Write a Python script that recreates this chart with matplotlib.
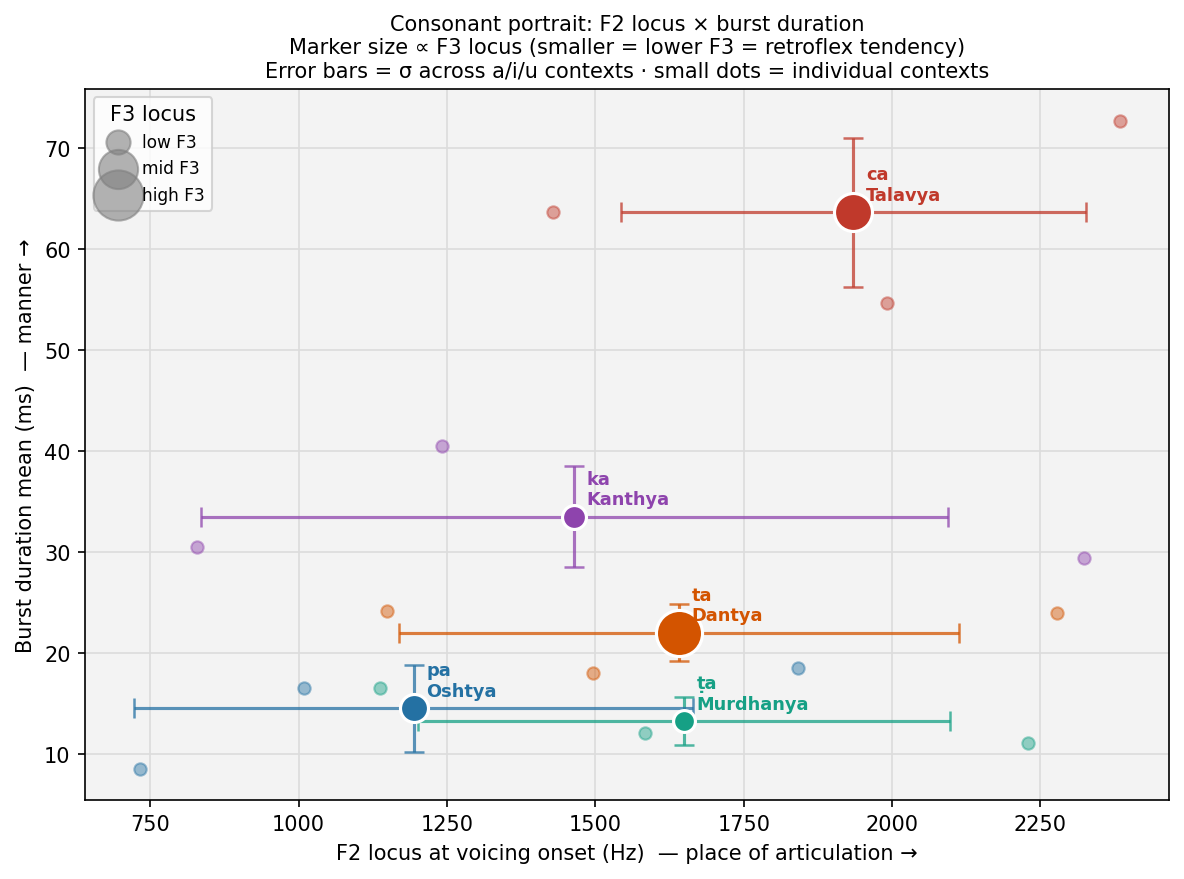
import numpy as np
import matplotlib.pyplot as plt

names = ['Kanthya', 'Talavya', 'Murdhanya', 'Dantya', 'Oshtya']
syllables = ['ka', 'ca', 'ṭa', 'ta', 'pa']
colors = ['#8e44ad', '#c0392b', '#16a085', '#d35400', '#2471a3']

# per-context (a / i / u) values
f2_ctx = [
    [829, 1242, 2323],
    [2384, 1429, 1991],
    [1137, 1584, 2229],
    [1149, 1496, 2278],
    [732, 1009, 1841],
]
burst_ctx = [
    [30.5, 40.5, 29.4],
    [72.7, 63.6, 54.6],
    [16.5, 12.1, 11.1],
    [24.1, 18.0, 23.9],
    [8.5, 16.5, 18.5],
]
f3_locus = [2240, 2610, 2200, 2900, 2330]

legend_labels = ['low F3', 'mid F3', 'high F3']
legend_f3 = [2245, 2650, 3000]


def f3_to_size(f3):
    return np.interp(f3, [2200, 2900], [110, 490], right=580)


fig, ax = plt.subplots(figsize=(1184 / 150, 880 / 150), dpi=150)
fig.subplots_adjust(left=0.072, right=0.987, top=0.898, bottom=0.09)
ax.set_facecolor('#f3f3f3')
ax.grid(True, color='#dcdcdc', linewidth=0.8)
ax.set_axisbelow(True)

for i, name in enumerate(names):
    xs = np.array(f2_ctx[i])
    ys = np.array(burst_ctx[i])
    mx, my = xs.mean(), ys.mean()
    sx, sy = xs.std(), ys.std()
    c = colors[i]
    ax.scatter(xs, ys, s=35, color=c, alpha=0.45, edgecolor=c, linewidth=1, zorder=2)
    ax.errorbar(mx, my, xerr=sx, yerr=sy, fmt='none', ecolor=c, alpha=0.75,
                elinewidth=1.5, capsize=5, capthick=1.2, zorder=3)
    ax.scatter([mx], [my], s=f3_to_size(f3_locus[i]), color=c, edgecolor='white',
               linewidth=1.5, zorder=4)
    ax.annotate(f'{syllables[i]}\n{name}', (mx, my), xytext=(6, 4),
                textcoords='offset points', ha='left', va='bottom',
                color=c, fontsize=8.5, fontweight='bold', zorder=5)

handles = []
for lab, f3 in zip(legend_labels, legend_f3):
    handles.append(ax.scatter([], [], s=f3_to_size(f3), color='grey', alpha=0.6,
                              edgecolor='grey', label=lab))
ax.legend(handles=handles, title='F3 locus', loc='upper left', fontsize=8.2,
          title_fontsize=10, labelspacing=0.5, handletextpad=0.45,
          borderpad=0.4, framealpha=0.8)

ax.set_xlim(640.5, 2466)
ax.set_ylim(5.45, 75.85)
ax.set_xlabel('F2 locus at voicing onset (Hz)  — place of articulation →')
ax.set_ylabel('Burst duration mean (ms)  — manner →')
ax.set_title('Consonant portrait: F2 locus × burst duration\n'
             'Marker size ∝ F3 locus (smaller = lower F3 = retroflex tendency)\n'
             'Error bars = σ across a/i/u contexts · small dots = individual contexts',
             fontsize=10)

fig.savefig('out.png', dpi=150)
